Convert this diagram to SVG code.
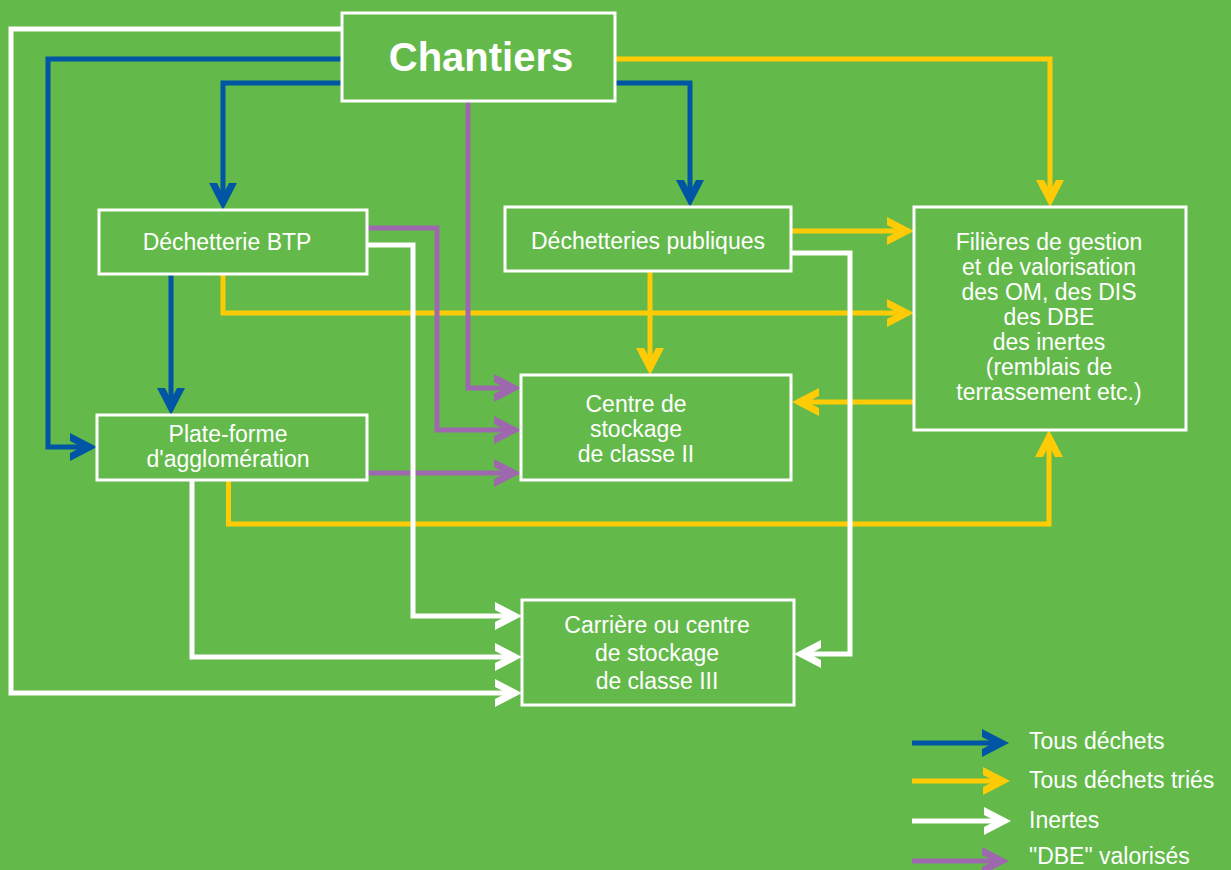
<svg xmlns="http://www.w3.org/2000/svg" width="1231" height="870" viewBox="0 0 1231 870">
<style>
.box{fill:#63BA4A;stroke:#fff;stroke-width:3}
.t{font-family:"Liberation Sans",Arial,sans-serif;font-size:23px;fill:#fff;text-anchor:middle}
.lt{font-family:"Liberation Sans",Arial,sans-serif;font-size:23px;fill:#fff}
.ln{fill:none;stroke-width:5;stroke-linejoin:miter;stroke-linecap:butt}
.b{stroke:#0055A4}.y{stroke:#FFCB05}.w{stroke:#fff}.p{stroke:#9D68AE}
</style>
<defs>
<marker id="mb" viewBox="-30 -16 32 32" refX="-8" refY="0" markerWidth="32" markerHeight="32" markerUnits="userSpaceOnUse" orient="auto" overflow="visible"><path d="M0,0 L-27,-14 L-27,-6 L-15.4,0 L-27,6 L-27,14 Z" fill="#0055A4"/></marker>
<marker id="my" viewBox="-30 -16 32 32" refX="-8" refY="0" markerWidth="32" markerHeight="32" markerUnits="userSpaceOnUse" orient="auto" overflow="visible"><path d="M0,0 L-27,-14 L-27,-6 L-15.4,0 L-27,6 L-27,14 Z" fill="#FFCB05"/></marker>
<marker id="mw" viewBox="-30 -16 32 32" refX="-8" refY="0" markerWidth="32" markerHeight="32" markerUnits="userSpaceOnUse" orient="auto" overflow="visible"><path d="M0,0 L-27,-14 L-27,-6 L-15.4,0 L-27,6 L-27,14 Z" fill="#fff"/></marker>
<marker id="mp" viewBox="-30 -16 32 32" refX="-8" refY="0" markerWidth="32" markerHeight="32" markerUnits="userSpaceOnUse" orient="auto" overflow="visible"><path d="M0,0 L-27,-14 L-27,-6 L-15.4,0 L-27,6 L-27,14 Z" fill="#9D68AE"/></marker>
</defs>
<rect width="1231" height="870" fill="#63BA4A"/>
<g id="connectors">
<path class="ln y" d="M615,59 H1050 V199" marker-end="url(#my)"/>
<path class="ln y" d="M791,231 H906" marker-end="url(#my)"/>
<path class="ln y" d="M223,275 V313 H906" marker-end="url(#my)"/>
<path class="ln y" d="M650,271 V367" marker-end="url(#my)"/>
<path class="ln y" d="M914,402 H800" marker-end="url(#my)"/>
<path class="ln y" d="M228.5,480 V524 H1049 V438" marker-end="url(#my)"/>
<path class="ln p" d="M367,228 H437 V430 H513" marker-end="url(#mp)"/>
<path class="ln p" d="M468,101 V388 H513" marker-end="url(#mp)"/>
<path class="ln p" d="M367,473 H513" marker-end="url(#mp)"/>
<path class="ln b" d="M342,59 H48 V447 H89" marker-end="url(#mb)"/>
<path class="ln b" d="M342,83 H223 V202" marker-end="url(#mb)"/>
<path class="ln b" d="M615,83 H690 V199" marker-end="url(#mb)"/>
<path class="ln b" d="M171,275 V407" marker-end="url(#mb)"/>
<path class="ln w" d="M342,29 H11 V693 H514" marker-end="url(#mw)"/>
<path class="ln w" d="M367,245 H413 V616 H514" marker-end="url(#mw)"/>
<path class="ln w" d="M192,480 V657 H514" marker-end="url(#mw)"/>
<path class="ln w" d="M791,253 H850 V654 H802" marker-end="url(#mw)"/>
</g>
<g id="chantiers"><rect class="box" x="342" y="13" width="273" height="88"/><text x="481" y="71" style="font-family:'Liberation Sans',Arial,sans-serif;font-size:40px;font-weight:bold;fill:#fff;text-anchor:middle">Chantiers</text></g>
<g id="dechetterie-btp"><rect class="box" x="99" y="210" width="268" height="64"/><text class="t" x="227" y="250">Déchetterie BTP</text></g>
<g id="dechetteries-publiques"><rect class="box" x="505" y="207" width="286" height="64"/><text class="t" x="648" y="249">Déchetteries publiques</text></g>
<g id="filieres"><rect class="box" x="914" y="207" width="272" height="223"/>
<text class="t" x="1049" y="250">Filières de gestion</text>
<text class="t" x="1049" y="275">et de valorisation</text>
<text class="t" x="1049" y="300">des OM, des DIS</text>
<text class="t" x="1049" y="325">des DBE</text>
<text class="t" x="1049" y="350">des inertes</text>
<text class="t" x="1049" y="375">(remblais de</text>
<text class="t" x="1049" y="400">terrassement etc.)</text></g>
<g id="plate-forme"><rect class="box" x="97" y="415" width="270" height="65"/>
<text class="t" x="228" y="442">Plate-forme</text>
<text class="t" x="228" y="467">d'agglomération</text></g>
<g id="centre-classe-2"><rect class="box" x="521" y="375" width="270" height="105"/>
<text class="t" x="636" y="412">Centre de</text>
<text class="t" x="636" y="437">stockage</text>
<text class="t" x="636" y="462">de classe II</text></g>
<g id="carriere"><rect class="box" x="522" y="600" width="272" height="105"/>
<text class="t" x="657" y="633">Carrière ou centre</text>
<text class="t" x="657" y="661">de stockage</text>
<text class="t" x="657" y="689">de classe III</text></g>
<g id="legend">
<path class="ln b" d="M912,743 H1001" marker-end="url(#mb)"/>
<path class="ln y" d="M912,781 H1002" marker-end="url(#my)"/>
<path class="ln w" d="M912,821 H1003" marker-end="url(#mw)"/>
<path class="ln p" d="M912,861 H1001" marker-end="url(#mp)"/>
<text class="lt" x="1029" y="749">Tous déchets</text>
<text class="lt" x="1029" y="788">Tous déchets triés</text>
<text class="lt" x="1029" y="828">Inertes</text>
<text class="lt" x="1029" y="864">"DBE" valorisés</text>
</g>
</svg>
